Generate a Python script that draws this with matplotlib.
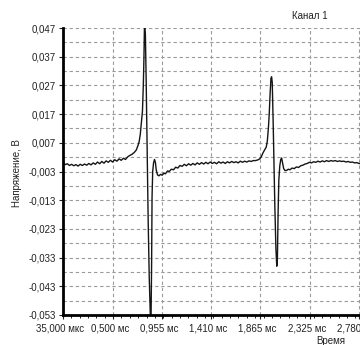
import matplotlib
matplotlib.use('Agg')
import matplotlib.pyplot as plt
from matplotlib.ticker import AutoMinorLocator
from matplotlib.transforms import ScaledTranslation

plt.rcParams['font.family'] = ['Liberation Sans', 'DejaVu Sans']

# Время, мс
t_ms = [
    0.035, 0.055, 0.075, 0.095, 0.115, 0.135, 0.155, 0.175, 0.195, 0.215,
    0.235, 0.255, 0.275, 0.295, 0.315, 0.335, 0.355, 0.375, 0.395, 0.415,
    0.435, 0.455, 0.475, 0.495, 0.515, 0.535, 0.555, 0.575, 0.595, 0.615,
    0.635, 0.655, 0.675, 0.695, 0.715, 0.730, 0.742, 0.752, 0.762, 0.772,
    0.780, 0.786, 0.790, 0.794, 0.799, 0.806, 0.815, 0.825, 0.835, 0.845,
    0.852, 0.857, 0.861, 0.867, 0.875, 0.884, 0.892, 0.900, 0.912, 0.925,
    0.940, 0.955, 0.970, 0.985, 1.005, 1.020, 1.040, 1.060, 1.080, 1.100,
    1.120, 1.140, 1.160, 1.180, 1.200, 1.220, 1.240, 1.260, 1.280, 1.300,
    1.320, 1.340, 1.360, 1.380, 1.400, 1.420, 1.440, 1.460, 1.480, 1.500,
    1.520, 1.540, 1.560, 1.580, 1.600, 1.620, 1.640, 1.660, 1.680, 1.700,
    1.720, 1.740, 1.760, 1.780, 1.800, 1.820, 1.840, 1.860, 1.875, 1.890,
    1.905, 1.920, 1.930, 1.940, 1.948, 1.956, 1.964, 1.970, 1.976, 1.984,
    1.992, 2.000, 2.010, 2.018, 2.024, 2.030, 2.037, 2.046, 2.055, 2.063,
    2.072, 2.082, 2.095, 2.110, 2.125, 2.140, 2.160, 2.180, 2.200, 2.220,
    2.240, 2.260, 2.280, 2.300, 2.320, 2.340, 2.360, 2.380, 2.400, 2.420,
    2.440, 2.460, 2.480, 2.500, 2.520, 2.540, 2.560, 2.580, 2.600, 2.620,
    2.640, 2.660, 2.680, 2.700, 2.720, 2.740, 2.760, 2.780, 2.800,
]

# Напряжение, В
u_volt = [
    0.0002, -0.0006, -0.0003, -0.0009, -0.0005, -0.0010, -0.0006, -0.0011, -0.0005, -0.0009,
    -0.0004, -0.0008, -0.0002, -0.0007, 0.0000, -0.0005, 0.0003, -0.0003, 0.0005, -0.0001,
    0.0007, 0.0002, 0.0009, 0.0003, 0.0011, 0.0006, 0.0014, 0.0009, 0.0016, 0.0012,
    0.0021, 0.0026, 0.0030, 0.0036, 0.0045, 0.0060, 0.0075, 0.0100, 0.0140, 0.0180,
    0.0270, 0.0370, 0.0465, 0.0470, 0.0450, 0.0300, 0.0050, -0.0200, -0.0400, -0.0530,
    -0.0530, -0.0350, -0.0120, -0.0030, 0.0000, 0.0012, 0.0002, -0.0025, -0.0042, -0.0045,
    -0.0040, -0.0043, -0.0036, -0.0038, -0.0028, -0.0030, -0.0022, -0.0024, -0.0015, -0.0018,
    -0.0009, -0.0012, -0.0005, -0.0010, -0.0003, -0.0008, -0.0002, -0.0007, 0.0000, -0.0005,
    0.0001, -0.0004, 0.0002, -0.0003, 0.0003, -0.0002, 0.0002, -0.0003, 0.0004, -0.0001,
    0.0003, -0.0002, 0.0004, 0.0000, 0.0005, 0.0001, 0.0004, 0.0000, 0.0006, 0.0002,
    0.0006, 0.0003, 0.0007, 0.0005, 0.0008, 0.0008, 0.0010, 0.0014, 0.0022, 0.0035,
    0.0045, 0.0055, 0.0075, 0.0120, 0.0170, 0.0240, 0.0295, 0.0300, 0.0280, 0.0150,
    0.0000, -0.0150, -0.0300, -0.0360, -0.0330, -0.0180, -0.0060, -0.0010, 0.0012, 0.0017,
    0.0000, -0.0020, -0.0027, -0.0026, -0.0022, -0.0024, -0.0018, -0.0020, -0.0014, -0.0016,
    -0.0010, -0.0008, -0.0004, -0.0002, 0.0002, 0.0000, 0.0004, 0.0002, 0.0006, 0.0003,
    0.0007, 0.0004, 0.0008, 0.0005, 0.0008, 0.0006, 0.0008, 0.0005, 0.0007, 0.0005,
    0.0006, 0.0003, 0.0005, 0.0002, 0.0003, 0.0000, 0.0001, -0.0002, -0.0003,
]

x_ticks = [0.035, 0.500, 0.955, 1.410, 1.865, 2.325, 2.780]
x_labels = ['35,000 мкс', '0,500 мс', '0,955 мс', '1,410 мс', '1,865 мс', '2,325 мс', '2,780 мс']
y_ticks = [0.047, 0.037, 0.027, 0.017, 0.007, -0.003, -0.013, -0.023, -0.033, -0.043, -0.053]
y_grid = [0.047 - 0.005 * i for i in range(21)]

fig = plt.figure(figsize=(3.6, 3.45), dpi=100)
ax = fig.add_axes([63 / 360, 30 / 345, 297 / 360, 287 / 345])

ax.plot(t_ms, u_volt, color='#151515', lw=1.0)

ax.set_xlim(0.035, 2.79)
ax.set_ylim(-0.053, 0.047)

ax.set_xticks(x_ticks)
ax.set_xticklabels(x_labels)
ax.xaxis.set_minor_locator(AutoMinorLocator(6))
ax.set_yticks(y_ticks)
ax.set_yticklabels([f'{v:.3f}'.replace('.', ',') for v in y_ticks])

# сетка
for x in x_ticks[1:]:
    ax.axvline(x, color='#9a9a9a', lw=0.8, ls=(0, (3, 2.5)), zorder=0)
for y in y_grid:
    ax.axhline(y, color='#9a9a9a', lw=0.8, ls=(0, (3, 2.5)), zorder=0)

for s in ['top', 'right']:
    ax.spines[s].set_visible(False)
ax.spines['left'].set_linewidth(2)
ax.spines['bottom'].set_linewidth(2)

ax.tick_params(axis='both', which='major', labelsize=7, length=3, width=0.8,
               colors='#222222', pad=2)
ax.tick_params(axis='x', which='minor', length=2, width=0.6)
ax.tick_params(axis='x', pad=3)

# подписи оси X чуть левее делений
shift = ScaledTranslation(-3 / 100, 0, fig.dpi_scale_trans)
for lbl in ax.get_xticklabels():
    lbl.set_transform(lbl.get_transform() + shift)

fig.text(17 / 360, 1 - 173 / 345, 'Напряжение, В', rotation=90, ha='center', va='center',
         fontsize=7, color='#222222')
fig.text(310 / 360, 1 - 16 / 345, 'Канал 1', ha='center', va='center', fontsize=7, color='#222222')
fig.text(331 / 360, 1 - 341 / 345, 'Время', ha='center', va='center', fontsize=7, color='#222222')

fig.savefig('out.png', dpi=100)
